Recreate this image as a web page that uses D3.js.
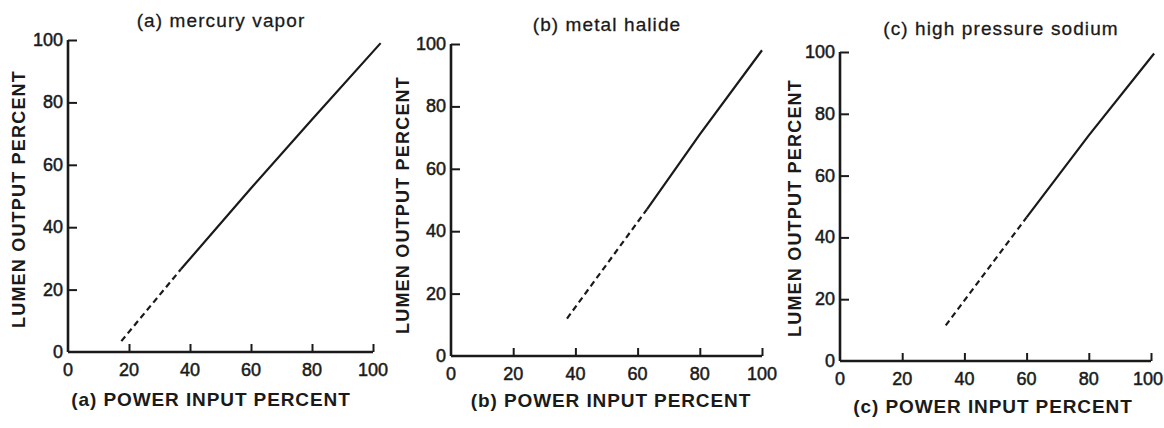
<!DOCTYPE html>
<html>
<head>
<meta charset="utf-8">
<script src="https://cdn.jsdelivr.net/npm/d3@7"></script>
<style>
  html, body { margin: 0; padding: 0; background: #ffffff; }
  svg { display: block; }
  text { font-family: "Liberation Sans", Arial, sans-serif; fill: #1a1a1a; }
</style>
</head>
<body>
<svg id="chart" width="1164" height="428"></svg>
<script>
// ---- data ----
const panelTitles = ["(a) mercury vapor", "(b) metal halide", "(c) high pressure sodium"];
const xAxisTitles = ["(a) POWER INPUT PERCENT", "(b) POWER INPUT PERCENT", "(c) POWER INPUT PERCENT"];
const yAxisTitle = "LUMEN OUTPUT PERCENT";
const tickValues = [0, 20, 40, 60, 80, 100];

// [power input %, lumen output %]
const mercuryDashed = [[17.5, 3.5], [37, 26.5]];
const mercurySolid  = [[37, 26.5], [60, 52.5], [80, 74.5], [102.5, 99]];
const halideDashed  = [[37.3, 12], [63, 47]];
const halideSolid   = [[63, 47], [80, 71], [100, 98]];
const sodiumDashed  = [[34, 11.5], [60, 46.5]];
const sodiumSolid   = [[60, 46.5], [80, 73], [101, 99.5]];

const dashedSeries = [mercuryDashed, halideDashed, sodiumDashed];
const solidSeries  = [mercurySolid, halideSolid, sodiumSolid];

// ---- layout (pixels) ----
const W = 1164, H = 428;
const layout = [
  { x0: 68,  x1: 373,  y0: 352, y1: 40, titleX: 221,  titleY: 27, xlabX: 211, xlabY: 406, ylabX: 19,  ylabY: 199 },
  { x0: 451, x1: 762,  y0: 356, y1: 44, titleX: 607,  titleY: 31, xlabX: 611, xlabY: 407, ylabX: 403, ylabY: 205 },
  { x0: 840, x1: 1151, y0: 361, y1: 52, titleX: 1001, titleY: 35, xlabX: 993, xlabY: 413, ylabX: 795, ylabY: 208 }
];

const ink = "#1a1a1a";
const svg = d3.select("#chart");
svg.append("rect").attr("width", W).attr("height", H).attr("fill", "#ffffff");

layout.forEach((L, i) => {
  const x = d3.scaleLinear().domain([0, 100]).range([L.x0, L.x1]);
  const y = d3.scaleLinear().domain([0, 100]).range([L.y0, L.y1]);
  const g = svg.append("g");

  // x axis: ticks inward (upwards)
  const xAxis = d3.axisTop(x).tickValues(tickValues).tickSize(8).tickFormat("");
  const xg = g.append("g").attr("transform", `translate(0,${L.y0})`).call(xAxis);
  xg.select(".domain").attr("d", `M${L.x0},0H${L.x1}`).attr("stroke", ink).attr("stroke-width", 2.6);
  xg.selectAll(".tick line").attr("stroke", ink).attr("stroke-width", 2);
  xg.selectAll(".tick").filter(d => d === 0).remove();

  // x tick labels
  const xtl = g.selectAll(".xtl").data(tickValues).join("text")
    .attr("x", d => x(d)).attr("y", L.y0 + 24)
    .attr("text-anchor", "middle")
    .attr("font-size", 18)
    .attr("stroke", ink).attr("stroke-width", 0.5)
    .text(d => d);
  // keep labels inside the picture
  xtl.each(function () {
    const w = this.getComputedTextLength();
    const cx = +this.getAttribute("x");
    if (cx + w / 2 > W - 1) this.setAttribute("x", W - 1 - w / 2);
  });

  // y axis: ticks inward (rightwards)
  const yAxis = d3.axisLeft(y).tickValues(tickValues).tickSize(-9).tickFormat("");
  const yg = g.append("g").attr("transform", `translate(${L.x0},0)`).call(yAxis);
  yg.select(".domain").attr("d", `M0,${L.y1}V${L.y0}`).attr("stroke", ink).attr("stroke-width", 2.6);
  yg.selectAll(".tick line").attr("stroke", ink).attr("stroke-width", 2);
  yg.selectAll(".tick").filter(d => d === 0).remove();

  // y tick labels
  g.selectAll(".ytl").data(tickValues).join("text")
    .attr("x", L.x0 - 5).attr("y", d => y(d) + 6)
    .attr("text-anchor", "end")
    .attr("font-size", 18)
    .attr("stroke", ink).attr("stroke-width", 0.5)
    .text(d => d);

  // line
  const line = d3.line().x(d => x(d[0])).y(d => y(d[1]));
  g.append("path").datum(dashedSeries[i]).attr("d", line)
    .attr("fill", "none").attr("stroke", ink).attr("stroke-width", 2.2)
    .attr("stroke-dasharray", "6,4");
  g.append("path").datum(solidSeries[i]).attr("d", line)
    .attr("fill", "none").attr("stroke", ink).attr("stroke-width", 2.2);

  // titles
  g.append("text").attr("x", L.titleX).attr("y", L.titleY)
    .attr("text-anchor", "middle").attr("font-size", 19)
    .attr("letter-spacing", 1.1)
    .attr("stroke", ink).attr("stroke-width", 0.3)
    .text(panelTitles[i]);

  g.append("text").attr("x", L.xlabX).attr("y", L.xlabY)
    .attr("text-anchor", "middle").attr("font-size", 19).attr("font-weight", "bold")
    .attr("letter-spacing", 0.9)
    .text(xAxisTitles[i]);

  g.append("text")
    .attr("transform", `translate(${L.ylabX},${L.ylabY}) rotate(-90)`)
    .attr("text-anchor", "middle").attr("dy", "0.35em")
    .attr("font-size", 18).attr("font-weight", "bold")
    .attr("letter-spacing", 1.2)
    .text(yAxisTitle);
});
</script>
</body>
</html>
